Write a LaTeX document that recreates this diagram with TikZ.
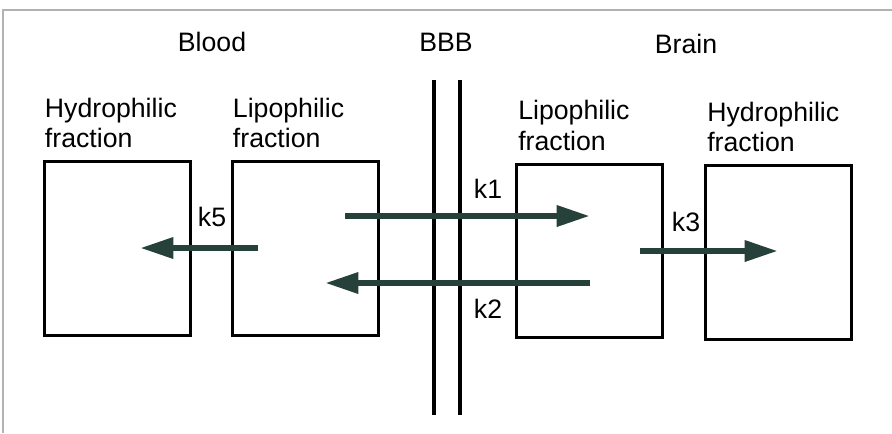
\documentclass[tikz,border=0pt]{standalone}
\usepackage{fontspec}
\setmainfont{Liberation Sans}
\usetikzlibrary{arrows.meta}
\definecolor{fluxcol}{RGB}{38,64,58}
\begin{document}
\begin{tikzpicture}[x=0.75pt,y=-0.75pt,
  every node/.style={font=\fontsize{20}{23}\selectfont},
  comp/.style={draw,line width=2.2pt,minimum width=109pt,minimum height=130pt,inner sep=0pt},
  lbl/.style={anchor=south west,align=left,inner sep=0pt},
  flux/.style={line width=4.8pt,draw=fluxcol,-{Triangle[length=25pt,width=15pt]}},
  wall/.style={line width=3pt}]
  \useasboundingbox (0,0) rectangle (892,433);
  \draw[gray!60,line width=0.8pt] (3,433) -- (3,10) -- (892,10);

  % compartments
  \node[comp] (hydL) at (117.5,248.5) {};
  \node[comp] (lipL) at (305.5,248.5) {};
  \node[comp] (lipR) at (589.5,251) {};
  \node[comp] (hydR) at (778.5,252.5) {};

  \node[lbl] (hydLtxt) at ([xshift=1pt,yshift=9pt]hydL.north west) {Hydrophilic\\fraction};
  \node[lbl] (lipLtxt) at ([xshift=1pt,yshift=9pt]lipL.north west) {Lipophilic\\fraction};
  \node[lbl] (lipRtxt) at ([xshift=2pt,yshift=9pt]lipR.north west) {Lipophilic\\fraction};
  \node[lbl] (hydRtxt) at ([xshift=2pt,yshift=9pt]hydR.north west) {Hydrophilic\\fraction};

  \node (blood) at (212,42) {Blood};
  \node (bbb) at (446,42) {BBB};
  \node (brain) at (686,44) {Brain};

  % barrier
  \draw[wall] (434,80) -- (434,415);
  \draw[wall] (460,80) -- (460,415);

  % rate constants
  \coordinate (k1s) at (345,216);
  \coordinate (k1e) at (590,216);
  \coordinate (k2s) at (590,283);
  \coordinate (k2e) at (325,283);
  \coordinate (k5s) at (258,248);
  \coordinate (k5e) at (140,248);
  \coordinate (k3s) at (640,251);
  \coordinate (k3e) at (778,251);

  \draw[flux] (k1s) -- (k1e);
  \draw[flux] (k2s) -- (k2e);
  \draw[flux] (k5s) -- (k5e);
  \draw[flux] (k3s) -- (k3e);

  \node (k1) at (488,189) {k1};
  \node (k2) at (488,309) {k2};
  \node (k5) at (212,217) {k5};
  \node (k3) at (686,222) {k3};
\end{tikzpicture}
\end{document}
